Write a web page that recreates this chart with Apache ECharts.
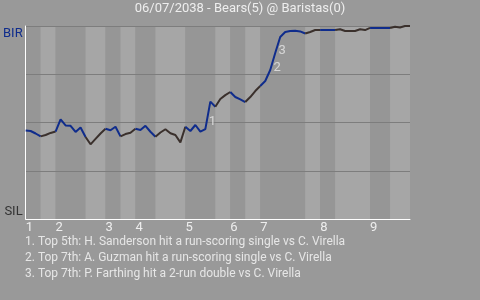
<!DOCTYPE html>
<html>
<head>
<meta charset="utf-8">
<script src="https://cdn.jsdelivr.net/npm/echarts@6/dist/echarts.min.js"></script>
<style>
html,body{margin:0;padding:0;background:#999999;}
#chart{width:480px;height:300px;}
</style>
</head>
<body>
<div id="chart"></div>
<script>
const chartTitle = '06/07/2038 - Bears(5) @ Baristas(0)';
const teamTop = 'BIR';
const teamBottom = 'SIL';
const inningLabels = ['1','2','3','4','5','6','7','8','9'];
// play index at which each half-inning starts (plus the final end)
const halfBounds = [0,3,6,12,16,19,22,26,32,38,41,44,47,56,59,62,69,73,77];
// BIR win probability (%) after each play
const winProb = [
  45.8,45.6,44.3,42.8,43.5,44.6,45.3,51.6,48.5,48.3,
  45.1,47.4,42.5,38.7,41.5,44.3,46.8,46.0,47.8,42.8,
  44.0,44.7,46.8,46.1,48.3,45.2,42.6,44.8,46.5,44.4,
  43.5,39.7,47.8,45.6,48.7,45.3,46.6,60.8,58.2,62.2,
  64.2,65.8,63.2,62.0,60.6,63.2,66.3,68.9,71.5,77.2,
  86.0,94.3,96.9,97.4,97.5,97.2,96.1,96.9,97.9,97.9,
  97.9,97.9,97.9,98.3,97.4,97.4,97.4,98.3,97.9,99.0,
  99.0,99.0,99.0,99.0,99.6,99.2,100,100
];
const eventIdx = [37,50,51];
const eventText = [
  'Top 5th: H. Sanderson hit a run-scoring single vs C. Virella',
  'Top 7th: A. Guzman hit a run-scoring single vs C. Virella',
  'Top 7th: P. Farthing hit a 2-run double vs C. Virella'
];

const BLUE = '#0f2c8c';
const DARK = '#3a302c';
const FONT = 'Roboto';

const series = [];
// background bands (one per half inning)
const bands = [];
for (let k = 0; k < halfBounds.length - 1; k++) {
  bands.push([
    {xAxis: halfBounds[k], itemStyle: {color: k % 2 === 0 ? '#969696' : '#a6a6a6'}},
    {xAxis: halfBounds[k + 1]}
  ]);
}
series.push({
  type: 'line', data: [], z: 1, silent: true,
  markArea: {silent: true, data: bands}
});
// line segments, colored by half inning
for (let k = 0; k < halfBounds.length - 1; k++) {
  const pts = [];
  for (let i = halfBounds[k]; i <= halfBounds[k + 1]; i++) pts.push([i, winProb[i]]);
  series.push({
    type: 'line', data: pts, z: 4, symbol: 'none', silent: true,
    lineStyle: {width: 2, color: k % 2 === 0 ? BLUE : DARK},
    animation: false
  });
}
// event annotations
series.push({
  type: 'scatter', z: 5, symbolSize: 0, silent: true,
  data: eventIdx.map((ix, n) => ({value: [ix, (winProb[ix - 1] + winProb[ix]) / 2], name: String(n + 1)})),
  label: {show: true, formatter: p => p.name, position: 'inside', offset: [2, 6],
    color: '#e6e6e6', fontSize: 13, fontFamily: FONT}
});

const inningStart = {};
for (let k = 0; k < halfBounds.length - 1; k += 2) inningStart[halfBounds[k]] = inningLabels[k / 2];

const chart = echarts.init(document.getElementById('chart'), null, {renderer: 'canvas'});
chart.setOption({
  backgroundColor: '#999999',
  animation: false,
  title: [
    {text: chartTitle, left: 'center', top: 2, padding: 0,
      textStyle: {color: '#eeeeee', fontSize: 13, fontWeight: 'normal', fontFamily: FONT}},
    {text: eventText.map((t, n) => (n + 1) + '. ' + t).join('\n'), left: 25, top: 234, padding: 0,
      textStyle: {color: '#e6e6e6', fontSize: 12, lineHeight: 16, fontWeight: 'normal', fontFamily: FONT}}
  ],
  grid: {left: 24, right: 70, top: 26, bottom: 81, containLabel: false},
  xAxis: {
    type: 'value', min: 0, max: 77, interval: 1, z: 3,
    axisLine: {show: true, lineStyle: {color: '#ffffff', width: 1}},
    axisTick: {show: false},
    splitLine: {show: false},
    axisLabel: {
      show: true, margin: 2, align: 'left', color: '#eeeeee', fontSize: 13, fontFamily: FONT,
      formatter: v => inningStart[v] !== undefined ? inningStart[v] : '',
      showMinLabel: true, showMaxLabel: true, hideOverlap: false
    }
  },
  yAxis: {
    type: 'value', min: 0, max: 100, interval: 25, z: 3,
    axisLine: {show: true, lineStyle: {color: '#ffffff', width: 1}},
    axisTick: {show: false},
    splitLine: {show: true, lineStyle: {color: '#7d7d7d', width: 1}},
    axisLabel: {
      margin: 3, fontSize: 13, fontFamily: FONT,
      formatter: v => v === 100 ? '{t|' + teamTop + '}' : (v === 0 ? '{b|' + teamBottom + '}' : ''),
      rich: {
        t: {color: BLUE, fontSize: 13, fontFamily: FONT, padding: [15, 0, 0, 0]},
        b: {color: '#333333', fontSize: 13, fontFamily: FONT, padding: [0, 0, 14, 0]}
      }
    }
  },
  series: series
});
</script>
</body>
</html>
